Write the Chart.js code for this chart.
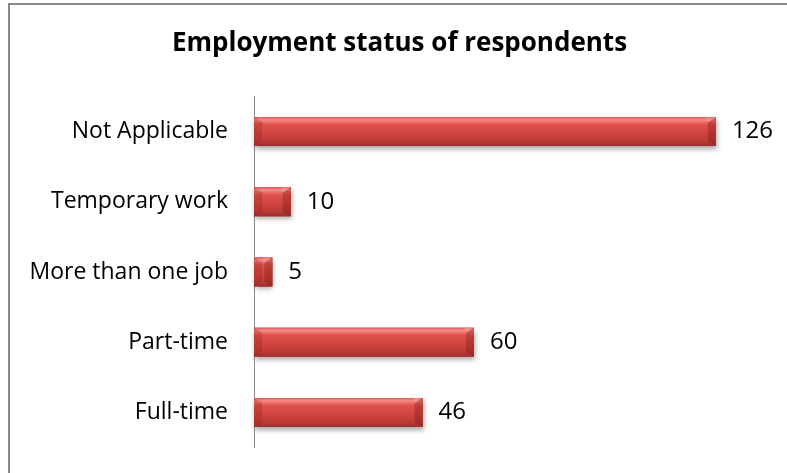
<!DOCTYPE html>
<html lang="en">
<head>
  <meta charset="UTF-8">
  <title>Employment status of respondents</title>
  <style>
    body {
      margin: 0;
      padding: 0;
      background: #ffffff;
    }

    .chart-box {
      position: relative;
      width: 787px;
      height: 473px;
    }

    /* frame round the chart: only top and left edges show */
    .chart-box::before {
      content: "";
      position: absolute;
      left: 8px;
      top: 3px;
      right: -10px;
      bottom: -10px;
      border-top: 2px solid #8a8a8a;
      border-left: 2px solid #8a8a8a;
      pointer-events: none;
    }
  </style>
</head>
<body>
  <div class="chart-box">
    <canvas id="statusChart" width="787" height="473"></canvas>
  </div>

  <script src="https://cdn.jsdelivr.net/npm/chart.js"></script>
  <script>
    const categories = ['Not Applicable', 'Temporary work', 'More than one job', 'Part-time', 'Full-time'];
    const respondents = [126, 10, 5, 60, 46];

    const FONT = '"Open Sans", Lato, sans-serif';

    // bevelled red bars, painted over the plain bars the library lays out
    const bevelBars = {
      id: 'bevelBars',
      afterDatasetsDraw(chart) {
        const ctx = chart.ctx;
        const meta = chart.getDatasetMeta(0);
        meta.data.forEach((bar, i) => {
          const p = bar.getProps(['x', 'y', 'base', 'height'], true);
          const left = Math.min(p.base, p.x);
          const right = Math.max(p.base, p.x);
          const top = p.y - p.height / 2;
          const h = p.height;
          const w = right - left;

          ctx.save();
          // soft drop shadow under the bar
          ctx.shadowColor = 'rgba(0,0,0,0.35)';
          ctx.shadowBlur = 5;
          ctx.shadowOffsetY = 3;
          ctx.shadowOffsetX = 1;
          ctx.fillStyle = '#c83e3a';
          ctx.fillRect(left, top, w, h);
          ctx.restore();

          ctx.save();
          const g = ctx.createLinearGradient(0, top, 0, top + h);
          g.addColorStop(0, '#e0605b');
          g.addColorStop(0.1, '#f58a86');
          g.addColorStop(0.25, '#e2524d');
          g.addColorStop(0.55, '#d0443f');
          g.addColorStop(0.85, '#bb3935');
          g.addColorStop(1, '#96302d');
          ctx.fillStyle = g;
          ctx.fillRect(left, top, w, h);

          // end caps
          const cap = Math.min(8, w / 2);
          ctx.fillStyle = 'rgba(120,25,22,0.35)';
          ctx.beginPath();
          ctx.moveTo(right, top);
          ctx.lineTo(right, top + h);
          ctx.lineTo(right - cap, top + h - cap * 0.6);
          ctx.lineTo(right - cap, top + cap * 0.6);
          ctx.closePath();
          ctx.fill();
          ctx.fillStyle = 'rgba(255,170,165,0.45)';
          ctx.beginPath();
          ctx.moveTo(right, top);
          ctx.lineTo(right - cap, top + cap * 0.6);
          ctx.lineTo(right - cap - 2, top);
          ctx.closePath();
          ctx.fill();
          ctx.fillStyle = 'rgba(150,35,30,0.3)';
          ctx.beginPath();
          ctx.moveTo(left, top);
          ctx.lineTo(left + cap, top + cap * 0.6);
          ctx.lineTo(left + cap, top + h - cap * 0.6);
          ctx.lineTo(left, top + h);
          ctx.closePath();
          ctx.fill();
          ctx.restore();

          // value label to the right of the bar
          ctx.save();
          ctx.font = '24px ' + FONT;
          ctx.fillStyle = '#000000';
          ctx.textAlign = 'left';
          ctx.textBaseline = 'middle';
          ctx.fillText(String(respondents[i]), right + 16, p.y);
          ctx.restore();
        });
      }
    };

    new Chart(document.getElementById('statusChart').getContext('2d'), {
      type: 'bar',
      data: {
        labels: categories,
        datasets: [{
          data: respondents,
          backgroundColor: '#c83e3a',
          borderWidth: 0,
          barPercentage: 0.41,
          categoryPercentage: 1
        }]
      },
      options: {
        indexAxis: 'y',
        responsive: false,
        animation: false,
        layout: {
          // the frame runs past the right edge, so the layout does too
          padding: { left: 0, right: -12, top: 0, bottom: 25.5 }
        },
        plugins: {
          legend: { display: false },
          tooltip: { enabled: false },
          title: {
            display: true,
            text: 'Employment status of respondents',
            color: '#000000',
            font: { family: FONT, size: 26, weight: 'bold' },
            padding: { top: 28, bottom: 37.3 }
          }
        },
        scales: {
          x: {
            display: false,
            min: 0,
            max: 145.4
          },
          y: {
            afterFit(scale) {
              scale.width = 254;
              scale.paddingTop = 0;
              scale.paddingBottom = 0;
            },
            grid: { display: false, drawTicks: false },
            border: { display: true, color: '#8a8a8a', width: 1 },
            ticks: {
              color: '#000000',
              padding: 26,
              font: { family: FONT, size: 23 }
            }
          }
        }
      },
      plugins: [bevelBars]
    });
  </script>
</body>
</html>
